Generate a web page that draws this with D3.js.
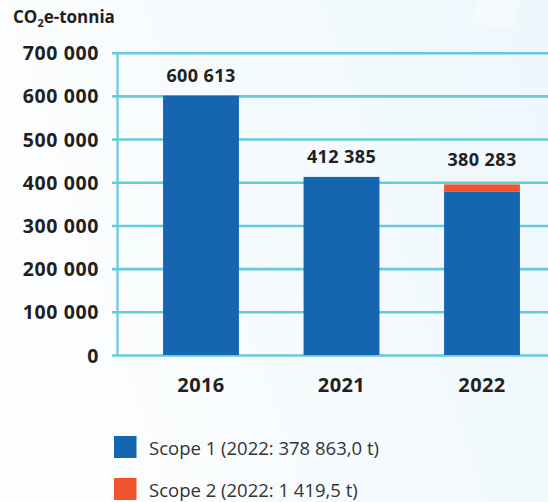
<!DOCTYPE html>
<html>
<head>
<meta charset="utf-8">
<script src="https://cdn.jsdelivr.net/npm/d3@7"></script>
<style>
  body { margin: 0; background: #fff; }
  #chart { width: 548px; height: 502px; }
  .axis text { font-family: "Open Sans", sans-serif; font-weight: 700; fill: #231f20; }
</style>
</head>
<body>
<div id="chart"></div>
<script>
// data
const years = ["2016", "2021", "2022"];
const totals = [600613, 412385, 380283];
const scope1 = [600613, 412385, 378863];
const scope2 = [0, 0, 1419.5];
const yTicks = [0, 100000, 200000, 300000, 400000, 500000, 600000, 700000];
const legendLabels = ["Scope 1 (2022: 378 863,0 t)", "Scope 2 (2022: 1 419,5 t)"];

const colors = {scope1: "#1565b0", scope2: "#f0532d", grid: "#63cbdb", text: "#231f20"};

const fi = d3.formatLocale({thousands: " ", grouping: [3], decimal: ","});
const fmt = fi.format(",d");

const W = 548, H = 502;
const svg = d3.select("#chart").append("svg")
    .attr("width", W)
    .attr("height", H);

// background
const defs = svg.append("defs");
const grad = defs.append("linearGradient")
    .attr("id", "bg")
    .attr("x1", "0").attr("y1", "0.3").attr("x2", "1").attr("y2", "0");
grad.append("stop").attr("offset", "0").attr("stop-color", "#fcfdfe");
grad.append("stop").attr("offset", "1").attr("stop-color", "#edf7fc");
svg.append("rect").attr("width", W).attr("height", H).attr("fill", "url(#bg)");

// faint decoration top right
svg.append("path")
    .attr("d", "M478,0 L520,0 L512,30 L470,22 Z")
    .attr("fill", "#ffffff").attr("opacity", 0.35);

// scales
const y = d3.scaleLinear().domain([0, 700000]).range([355, 52.7]);
const x = d3.scaleBand().domain(years).range([130.75, 552.25]).paddingInner(0.46).paddingOuter(0.23);

// gridlines + y labels
const yAxis = svg.append("g")
    .attr("class", "axis")
    .attr("transform", "translate(112,0)")
    .call(d3.axisLeft(y).tickValues(yTicks).tickFormat(fmt).tickSize(-(W - 112)).tickPadding(13));
yAxis.select(".domain").remove();
yAxis.selectAll(".tick line").attr("stroke", colors.grid).attr("stroke-width", 2.6);
yAxis.selectAll(".tick text").attr("font-size", 19.5).attr("dy", "0.36em").attr("letter-spacing", 0.6);

// vertical axis line
svg.append("line")
    .attr("x1", 117.5).attr("x2", 117.5)
    .attr("y1", y(700000)).attr("y2", y(0))
    .attr("stroke", colors.grid).attr("stroke-width", 2.2);

// bars
const bars = svg.append("g");
bars.selectAll(".s1")
    .data(years)
    .join("rect")
    .attr("class", "s1")
    .attr("x", d => x(d))
    .attr("width", x.bandwidth())
    .attr("y", (d, i) => y(scope1[i]))
    .attr("height", (d, i) => y(0) - y(scope1[i]))
    .attr("fill", colors.scope1);

// scope 2 is tiny, keep it visible like in the original
const minH = 7;
bars.selectAll(".s2")
    .data(years.filter((d, i) => scope2[i] > 0))
    .join("rect")
    .attr("class", "s2")
    .attr("x", d => x(d))
    .attr("width", x.bandwidth())
    .attr("y", d => {
        let i = years.indexOf(d);
        return y(scope1[i]) - Math.max(y(0) - y(scope2[i]), minH);
    })
    .attr("height", d => Math.max(y(0) - y(scope2[years.indexOf(d)]), minH))
    .attr("fill", colors.scope2);

// value labels
svg.append("g").selectAll("text")
    .data(years)
    .join("text")
    .attr("x", d => x(d) + x.bandwidth() / 2)
    .attr("y", (d, i) => Math.min(y(totals[i]) - 14, y(412385) - 11))
    .attr("text-anchor", "middle")
    .attr("font-family", "Open Sans, sans-serif")
    .attr("font-weight", 700)
    .attr("font-size", 18)
    .attr("letter-spacing", 0.4)
    .attr("fill", colors.text)
    .text((d, i) => fmt(totals[i]));

// x labels
svg.append("g").selectAll("text")
    .data(years)
    .join("text")
    .attr("x", d => x(d) + x.bandwidth() / 2)
    .attr("y", 392)
    .attr("text-anchor", "middle")
    .attr("font-family", "Open Sans, sans-serif")
    .attr("font-weight", 700)
    .attr("font-size", 20)
    .attr("letter-spacing", 0.4)
    .attr("fill", colors.text)
    .text(d => d);

// title
const title = svg.append("text")
    .attr("x", 13).attr("y", 23)
    .attr("font-family", "Open Sans, sans-serif")
    .attr("font-weight", 700)
    .attr("font-size", 17)
    .attr("fill", colors.text);
title.append("tspan").text("CO");
title.append("tspan").attr("font-size", 11).attr("dy", 4).text("2");
title.append("tspan").attr("dy", -4).text("e-tonnia");

// legend
const legend = svg.append("g").attr("transform", "translate(114,436)");
const legendColors = [colors.scope1, colors.scope2];
legendLabels.forEach((lab, i) => {
    let g = legend.append("g").attr("transform", "translate(0," + (i * 42) + ")");
    g.append("rect").attr("width", 22.5).attr("height", 22).attr("fill", legendColors[i]);
    g.append("text")
        .attr("x", 35).attr("y", 19)
        .attr("font-family", "Open Sans, sans-serif")
        .attr("font-size", 18.5)
        .attr("fill", "#333333")
        .text(lab);
});
</script>
</body>
</html>
